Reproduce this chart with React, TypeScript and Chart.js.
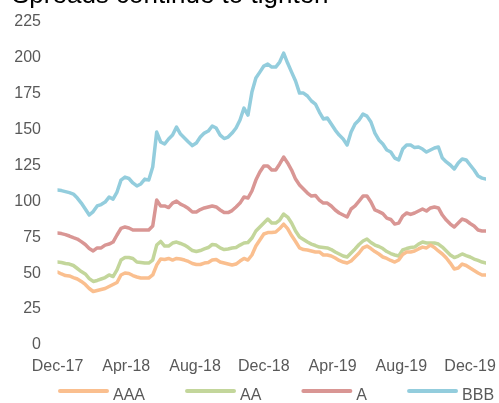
import React, { useEffect, useRef } from "react";
import { Chart, registerables } from "chart.js";

Chart.register(...registerables);

// Weekly observations, week 0 = start of Dec-17
const weeks: number[] = Array.from({ length: 109 }, (_, i) => i);

const tickLabels = ["Dec-17", "Apr-18", "Aug-18", "Dec-18", "Apr-19", "Aug-19", "Dec-19"];
const tickWeeks = [0, 17.33, 34.67, 52, 69.33, 86.67, 104];

const seriesNames = ["AAA", "AA", "A", "BBB"];

const aaa = [
  50.8, 49.4, 48.3, 48, 46.9, 45.9, 44.2, 42.1, 39.3, 37.2, 37.9, 38.6, 39.3, 40.7, 42.1, 43.5, 48.7, 50.1, 49.7, 48.3,
  47.3, 46.6, 46.6, 46.6, 48.7, 55.6, 59.8, 59.5, 60.2, 59.1, 60.2, 59.8, 59.1, 58.1, 56.7, 56, 56, 57, 57.4, 59.1,
  59.5, 57.7, 57, 56.3, 55.6, 56.3, 58.4, 60.2, 59.1, 62.6, 68.8, 73, 77.2, 78.2, 78.2, 78.6, 81, 84.1, 81, 76.1,
  72, 67.5, 66.4, 66.1, 65.4, 64.7, 64.7, 62.6, 62.6, 61.9, 60.5, 58.8, 57.7, 57, 58.4, 61.2, 64, 67.5, 68.8, 67.1,
  65, 63.3, 61.2, 60.2, 58.8, 57.7, 59.1, 62.9, 64.7, 64.7, 65.4, 66.8, 68.1, 67.5, 69.5, 67.8, 65.4, 63.3, 60.5, 57,
  52.9, 53.5, 56.3, 55.3, 53.5, 51.8, 50.1, 48.7, 48.7,
];

const aa = [
  57.7, 57.4, 56.7, 56.3, 55.3, 53.2, 51.1, 49.4, 46.2, 44.2, 44.9, 45.9, 46.9, 48.7, 47.6, 52.2, 59.1, 60.8, 60.8, 60.2,
  57.7, 57.4, 57, 57, 59.1, 69.5, 72, 68.8, 68.8, 70.9, 71.6, 70.6, 69.5, 67.8, 65.7, 65, 65.7, 66.8, 67.8, 69.9,
  69.5, 67.5, 66.4, 66.8, 67.5, 67.8, 69.5, 70.9, 71.3, 74.4, 79.3, 82.1, 84.8, 87.6, 84.8, 84.8, 86.9, 91.1, 89, 84.8,
  79.3, 75.1, 73.4, 71.6, 70.2, 69.2, 68.1, 67.8, 67.5, 66.4, 64.7, 63.3, 61.9, 61.2, 64, 66.8, 69.9, 72.3, 73.7, 71.3,
  69.5, 68.5, 67.1, 65, 63.6, 62.6, 61.9, 66.1, 67.1, 67.8, 68.1, 70.2, 71.6, 70.9, 70.9, 70.9, 70.2, 68.1, 65.4, 62.6,
  60.8, 61.9, 63.3, 62.2, 61.2, 59.8, 58.8, 57.7, 57,
];

const singleA = [
  77.9, 77.5, 76.8, 75.8, 74.7, 73.7, 71.9, 69.9, 67.1, 65.4, 67.5, 67.5, 69.5, 70.2, 71.6, 76.5, 81.1, 82.1, 81.4, 80,
  80, 80, 80, 80, 82.8, 100.8, 96.7, 96.7, 95.6, 98.7, 100.1, 98, 96.7, 94.9, 92.5, 92.5, 94.2, 95.3, 96, 96.7,
  96, 93.9, 92.1, 92.1, 93.5, 96, 98.7, 102.9, 102.2, 107.1, 114.7, 120.3, 124.5, 124.5, 121.7, 121.7, 125.9, 130.7, 126.6, 121.7,
  115.4, 111.3, 108.5, 105.7, 103.6, 104, 100.8, 98.7, 98.7, 96.7, 93.9, 91.8, 90.4, 89, 94.6, 96.7, 100.1, 103.6, 103.6, 99.4,
  93.9, 92.8, 91.4, 88.3, 87.3, 84.1, 84.8, 89.7, 91.8, 90.8, 91.8, 93.2, 94.6, 93.2, 95.3, 96, 95.3, 90.4, 86.9, 84.1,
  82.1, 84.8, 87.6, 86.6, 84.5, 82.8, 80, 79.3, 79.3,
];

const bbb = [
  107.8, 107.4, 106.7, 106, 105, 102.2, 98.7, 94.6, 90.4, 92.8, 96.7, 97.7, 99.4, 102.9, 101.5, 106.4, 114.7, 116.8, 115.8, 112.7,
  110.6, 112, 115.4, 114.7, 123.8, 148.1, 141.2, 139.8, 143.3, 146, 151.6, 146.7, 144, 141.2, 138.7, 140.5, 144.6, 147.4, 148.8, 152.3,
  150.9, 146, 143.6, 144.6, 147.4, 150.9, 156.5, 164.8, 159.9, 175.9, 185.7, 189.8, 194, 195.4, 193.3, 193.3, 196.8, 203, 196.1, 189.8,
  183.6, 175.2, 175.2, 173.2, 169.7, 167.6, 162, 157.2, 157.9, 153.7, 149.5, 146, 143.3, 139.1, 148.1, 153.7, 156.5, 160.6, 159.2, 155.1,
  147.4, 142.6, 139.8, 135.6, 134.2, 130, 128.7, 136.3, 139.1, 139.1, 137.3, 137.7, 136.3, 134.2, 135.6, 137, 137.7, 130, 127.3, 125.2,
  122.4, 126.6, 129.4, 128.7, 125.2, 121.7, 117.5, 116.1, 115.4,
];

const seriesValues = [aaa, aa, singleA, bbb];
const seriesColors = ["#FABF8F", "#C3D69B", "#D99694", "#93CDDD"];

const FONT = "'Liberation Sans', Arial, sans-serif";
const TICK_COLOR = "#595959";

// Legend drawn on the canvas from the chart's own datasets
const bottomLegend = {
  id: "bottomLegend",
  afterDraw(chart: any) {
    const ctx = chart.ctx as CanvasRenderingContext2D;
    ctx.save();
    ctx.font = `16px ${FONT}`;
    ctx.textBaseline = "alphabetic";
    ctx.textAlign = "left";
    const lineY = 391;
    const textY = 400;
    const swatch = 51;
    const gapText = 4;
    const gapItem = 40;
    let x = 58;
    chart.data.datasets.forEach((ds: any) => {
      ctx.strokeStyle = ds.borderColor;
      ctx.lineWidth = 4;
      ctx.lineCap = "round";
      ctx.beginPath();
      ctx.moveTo(x + 2, lineY);
      ctx.lineTo(x + swatch - 2, lineY);
      ctx.stroke();
      ctx.fillStyle = TICK_COLOR;
      ctx.fillText(ds.label, x + swatch + gapText, textY);
      x += swatch + gapText + ctx.measureText(ds.label).width + gapItem;
    });
    ctx.restore();
  },
};

export default function App() {
  const canvasRef = useRef<HTMLCanvasElement | null>(null);

  useEffect(() => {
    if (!canvasRef.current) return;
    const chart = new Chart(canvasRef.current, {
      type: "line",
      data: {
        labels: weeks,
        datasets: seriesNames.map((name, i) => ({
          label: name,
          data: seriesValues[i],
          borderColor: seriesColors[i],
          backgroundColor: seriesColors[i],
          borderWidth: 3.5,
          pointRadius: 0,
          tension: 0,
          fill: false,
          borderJoinStyle: "round" as const,
          borderCapStyle: "round" as const,
        })),
      },
      options: {
        responsive: false,
        animation: false,
        events: [],
        layout: { padding: { top: 21.5, left: 0, right: 13, bottom: 0 } },
        scales: {
          x: {
            type: "linear",
            min: 0,
            max: 108,
            afterBuildTicks: (s: any) => {
              s.ticks = tickWeeks.map((v) => ({ value: v }));
            },
            afterFit: (s: any) => {
              s.height = 58;
              s.paddingLeft = 0;
              s.paddingRight = 0;
            },
            ticks: {
              autoSkip: false,
              maxRotation: 0,
              padding: 12,
              color: TICK_COLOR,
              font: { family: FONT, size: 16 },
              callback: (_v: any, i: number) => tickLabels[i],
            },
            grid: { display: false, drawTicks: false },
            border: { display: false },
          },
          y: {
            min: 0,
            max: 225,
            afterFit: (s: any) => {
              s.width = 57.5;
              s.paddingTop = 0;
              s.paddingBottom = 0;
            },
            ticks: {
              stepSize: 25,
              padding: 16.5,
              color: TICK_COLOR,
              font: { family: FONT, size: 16 },
            },
            grid: { display: false, drawTicks: false },
            border: { display: false },
          },
        },
        plugins: {
          title: { display: false },
          tooltip: { enabled: false },
          legend: { display: false },
        },
      } as any,
      plugins: [bottomLegend],
    });
    return () => chart.destroy();
  }, []);

  return (
    <div style={{ position: "fixed", left: 0, top: 0, width: 499, height: 403, overflow: "hidden", background: "#fff" }}>
      <canvas ref={canvasRef} width={499} height={403} style={{ position: "absolute", left: 0, top: 0 }} />
      <div
        style={{
          position: "absolute",
          left: 12,
          top: -21,
          fontFamily: FONT,
          fontSize: 26,
          lineHeight: "30px",
          color: "#000",
          whiteSpace: "nowrap",
        }}
      >
        Spreads continue to tighten
      </div>
    </div>
  );
}
